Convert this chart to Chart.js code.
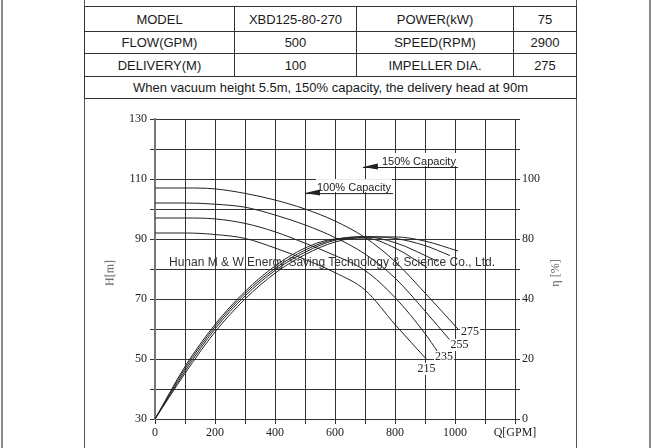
<!DOCTYPE html>
<html><head><meta charset="utf-8">
<script src="https://cdn.jsdelivr.net/npm/chart.js@4.4.1/dist/chart.umd.min.js"></script>
<style>
html,body{margin:0;padding:0;background:#fff;}
body{width:651px;height:448px;position:relative;overflow:hidden;font-family:"Liberation Sans",Arial,sans-serif;color:#1a1a1a;}
.vline{position:absolute;top:0;height:448px;}
#spec{position:absolute;left:84px;top:6px;border-collapse:collapse;table-layout:fixed;font-size:13px;}
#spec td{border:1px solid #333;text-align:center;padding:0;white-space:nowrap;}
#c{position:absolute;left:0;top:0;}
.ttl{position:absolute;font-family:"Liberation Serif",serif;font-size:12px;color:#555;transform:translate(-50%,-50%) rotate(-90deg);white-space:nowrap;}
#wm{position:absolute;left:332px;top:262px;transform:translate(-50%,-50%);font-size:12px;color:#333;white-space:nowrap;}
</style></head>
<body>
<div class="vline" style="left:1px;width:2px;background:#888"></div>
<div class="vline" style="left:649px;width:2px;background:#888"></div>
<div class="vline" style="left:84px;width:1px;background:#555"></div>
<div class="vline" style="left:576px;width:1px;background:#555"></div>
<table id="spec">
<colgroup><col style="width:150px"><col style="width:122px"><col style="width:157px"><col style="width:63px"></colgroup>
<tr style="height:25px"><td>MODEL</td><td>XBD125-80-270</td><td>POWER(kW)</td><td>75</td></tr>
<tr style="height:22px"><td>FLOW(GPM)</td><td>500</td><td>SPEED(RPM)</td><td>2900</td></tr>
<tr style="height:23px"><td>DELIVERY(M)</td><td>100</td><td>IMPELLER DIA.</td><td>275</td></tr>
<tr style="height:22px"><td colspan="4">When vacuum height 5.5m, 150% capacity, the delivery head at 90m</td></tr>
</table>
<canvas id="c" width="651" height="448"></canvas>
<div class="ttl" style="left:110px;top:273px">H[m]</div>
<div class="ttl" style="left:555px;top:273px">η [%]</div>
<div id="wm">Hunan M &amp; W Energy Saving Technology &amp; Science Co., Ltd.</div>
<script>
// Impeller diameters
const diameters = ['275','255','235','215'];
// Head curves H[m] vs Q[GPM]
const head275Q = [0,100,200,300,400,500,600,700,800,900,1010];
const head275H = [107,107,106.7,105.2,103,100,96,90.5,82.5,72,60];
const head255Q = [0,100,200,300,400,500,600,700,800,900,983];
const head255H = [102,102,101.6,100.6,98,94.7,90.5,85,77,66,56.3];
const head235Q = [0,100,200,300,400,500,600,700,800,900,943];
const head235H = [97,97,96.7,95.2,92.4,88.6,84.5,79.5,70.5,58.5,52.3];
const head215Q = [0,100,200,300,400,500,600,700,800,907];
const head215H = [92,92,91.5,90.2,87,83.2,78.8,73,61.5,49.7];
// Efficiency curves (right-axis units)
const eff275Q = [0,100,200,300,400,500,600,700,800,900,1010];
const eff275 = [0,15.2,29,40,48.6,54.8,59,60.6,60.7,59.3,56];
const eff255Q = [0,100,200,300,400,500,600,700,800,900,983];
const eff255 = [0,16,30,41,49.5,55.6,59.6,60.8,60.2,57.8,54.5];
const eff235Q = [0,100,200,300,400,500,600,700,800,943];
const eff235 = [0,16.8,30.8,41.8,50.2,56.3,59.9,60.7,58.8,52.5];
const eff215Q = [0,100,200,300,400,500,600,700,800,907];
const eff215 = [0,17.5,31.5,42.5,51,57,60,60.3,57,50.5];
// Tick labels
const xTickValues = [0,200,400,600,800,1000,1200];
const xTickLabels = ['0','200','400','600','800','1000','Q[GPM]'];
const headTickValues = [30,50,70,90,110,130];
const headTickLabels = ['30','50','70','90','110','130'];
const effTickValues = [0,20,40,60,80];
const effTickLabels = ['0','20','40','80','100'];
// Curve label anchors (Q, H)
const curveLabelQ = [1050,1015,963,905];
const curveLabelH = [59,54.7,50.7,46.7];
// Capacity annotations (arrow tip at Q, H)
const capTexts = ['100% Capacity','150% Capacity'];
const capQ = [500,693];
const capH = [105.3,114];

const pts = (q, v) => q.map((x, i) => ({x, y: v[i]}));
const line = (data, axis) => ({data, yAxisID: axis, borderColor:'#222', borderWidth:1, pointRadius:0, fill:false, cubicInterpolationMode:'monotone'});

const datasets = [
  line(pts(head275Q, head275H), 'y'),
  line(pts(head255Q, head255H), 'y'),
  line(pts(head235Q, head235H), 'y'),
  line(pts(head215Q, head215H), 'y'),
  line(pts(eff275Q, eff275), 'y1'),
  line(pts(eff255Q, eff255), 'y1'),
  line(pts(eff235Q, eff235), 'y1'),
  line(pts(eff215Q, eff215), 'y1')
];

const serif = {family:'"Liberation Serif", serif', size:12};
const lookup = (vals, labels) => v => { const i = vals.indexOf(Math.round(v*1000)/1000); return i >= 0 ? labels[i] : ''; };

const labelPlugin = {
  id:'labels',
  afterDatasetsDraw(chart){
    const ctx = chart.ctx, xs = chart.scales.x, ys = chart.scales.y;
    ctx.save();
    ctx.font = '12px "Liberation Serif", serif';
    ctx.textAlign = 'center'; ctx.textBaseline = 'middle';
    diameters.forEach((d, i) => {
      const px = xs.getPixelForValue(curveLabelQ[i]), py = ys.getPixelForValue(curveLabelH[i]);
      const w = ctx.measureText(d).width;
      ctx.fillStyle = '#fff'; ctx.fillRect(px - w/2 - 1, py - 6, w + 2, 12);
      ctx.fillStyle = '#222'; ctx.fillText(d, px, py);
    });
    ctx.font = '11px "Liberation Sans", Arial, sans-serif';
    ctx.textAlign = 'left'; ctx.textBaseline = 'alphabetic';
    capTexts.forEach((t, i) => {
      const tx = xs.getPixelForValue(capQ[i]), ty = ys.getPixelForValue(capH[i]);
      const off = i === 0 ? 12 : 19;
      const w = ctx.measureText(t).width;
      ctx.fillStyle = '#fff'; ctx.fillRect(tx + off - 1, ty - 14, w + 2, 13);
      ctx.fillStyle = '#222'; ctx.fillText(t, tx + off, ty - 2);
      ctx.strokeStyle = '#222'; ctx.lineWidth = 1;
      ctx.beginPath(); ctx.moveTo(tx, ty + 0.5); ctx.lineTo(tx + off + w + 2, ty + 0.5); ctx.stroke();
      ctx.beginPath(); ctx.moveTo(tx, ty); ctx.lineTo(tx + 15, ty - 3.5); ctx.lineTo(tx + 15, ty + 2.5); ctx.closePath(); ctx.fill();
    });
    ctx.restore();
  }
};

new Chart(document.getElementById('c'), {
  type:'line',
  data:{datasets},
  options:{
    responsive:false, animation:false, events:[],
    layout:{padding:{left:100, right:85, top:119, bottom:4}},
    plugins:{legend:{display:false}, tooltip:{enabled:false}},
    scales:{
      x:{type:'linear', min:0, max:1200,
         ticks:{stepSize:100, autoSkip:false, maxRotation:0, padding:2, color:'#222', font:serif, callback: lookup(xTickValues, xTickLabels)},
         grid:{color:'#333', lineWidth:1, tickLength:5},
         border:{color:'#333'},
         afterFit: s => { s.height = 25; }},
      y:{type:'linear', position:'left', min:30, max:130,
         ticks:{stepSize:10, autoSkip:false, padding:3, color:'#222', font:serif, callback: lookup(headTickValues, headTickLabels)},
         grid:{color:'#333', lineWidth:1, tickLength:5},
         border:{color:'#777', width:2},
         afterFit: s => { s.width = 55; }},
      y1:{type:'linear', position:'right', min:0, max:100,
         ticks:{stepSize:10, autoSkip:false, padding:2, color:'#222', font:serif, callback: lookup(effTickValues, effTickLabels)},
         grid:{drawOnChartArea:false, color:'#333', tickLength:5},
         border:{color:'#333'},
         afterFit: s => { s.width = 51; }}
    }
  },
  plugins:[labelPlugin]
});
</script>
</body></html>
